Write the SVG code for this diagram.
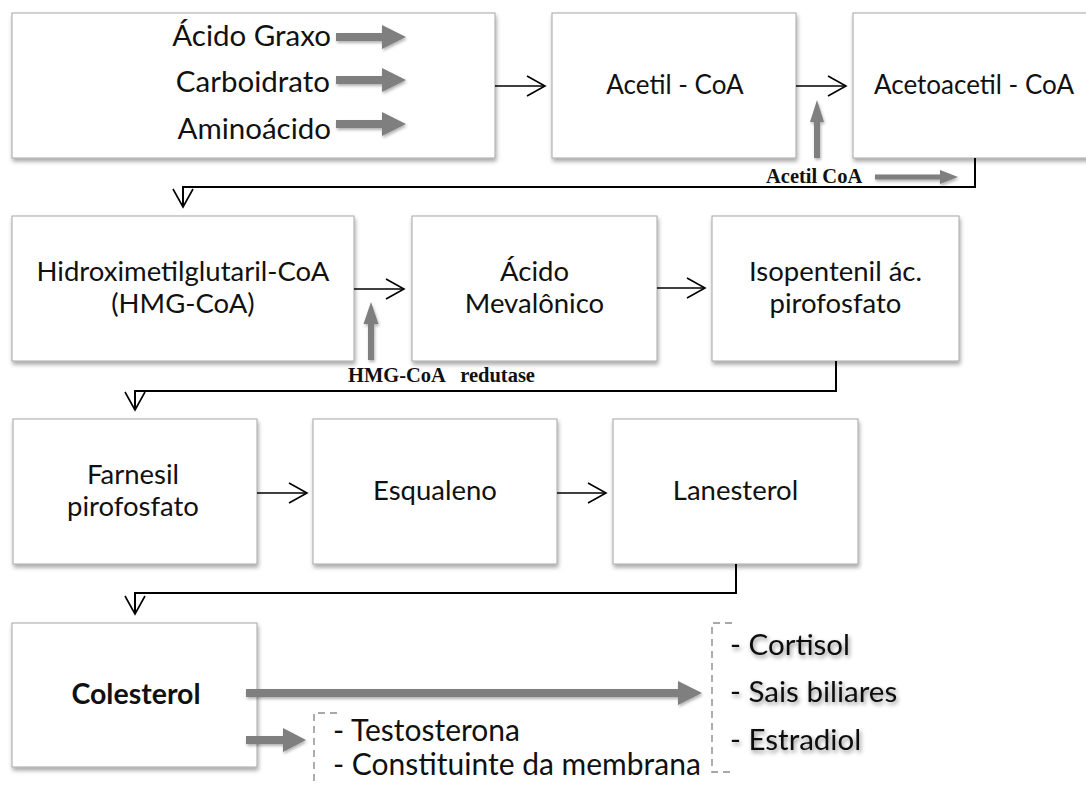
<svg xmlns="http://www.w3.org/2000/svg" width="1086" height="785" viewBox="0 0 1086 785">
  <defs>
    <style>
      .box { fill: #ffffff; stroke: #a6a6a6; stroke-width: 1; filter: url(#boxShadow); }
      .t { font-family: Lato, "Liberation Sans", sans-serif; font-size: 27.5px; fill: #111111; text-anchor: middle; }
      .big { font-size: 29.5px; text-anchor: end; }
      .sm { font-size: 26px; }
      .tl { font-family: Lato, "Liberation Sans", sans-serif; font-size: 30px; fill: #111111; }
      .list { font-family: Lato, "Liberation Sans", sans-serif; font-size: 29.5px; fill: #111111; filter: url(#textShadow); }
      .enz { font-family: "Liberation Serif", "Times New Roman", serif; font-size: 20.5px; font-weight: bold; fill: #111111; }
      .flow { fill: none; stroke: #000000; stroke-width: 1.6; marker-end: url(#chevron); }
      .elbow { fill: none; stroke: #000000; stroke-width: 2; }
      .garrow { fill: #7f7f7f; filter: url(#arrowShadow); }
      .bracket { fill: none; stroke: #8c8c8c; stroke-width: 1.4; stroke-dasharray: 7 5; }
    </style>
    <filter id="boxShadow" x="-5%" y="-5%" width="115%" height="125%">
      <feDropShadow dx="1" dy="3" stdDeviation="2" flood-color="#000000" flood-opacity="0.35"/>
    </filter>
    <filter id="textShadow" x="-10%" y="-20%" width="125%" height="160%">
      <feDropShadow dx="1.5" dy="2.5" stdDeviation="2" flood-color="#000000" flood-opacity="0.45"/>
    </filter>
    <filter id="arrowShadow" x="-10%" y="-30%" width="125%" height="170%">
      <feDropShadow dx="1" dy="2" stdDeviation="1.5" flood-color="#000000" flood-opacity="0.3"/>
    </filter>
    <marker id="chevron" markerUnits="userSpaceOnUse" markerWidth="22" markerHeight="24" refX="19" refY="11" orient="auto">
      <path d="M1,1 L19,11 L1,21" fill="none" stroke="#000000" stroke-width="1.6"/>
    </marker>
  </defs>

  <!-- row 1 -->
  <g id="precursores">
    <rect class="box" x="12" y="13" width="483" height="145"/>
    <text class="t big" x="331" y="46">Ácido Graxo</text>
    <text class="t big" x="330" y="92">Carboidrato</text>
    <text class="t big" x="331" y="139">Aminoácido</text>
    <path class="garrow" d="M336,33 H382 V25 L406,37 L382,49 V41 H336 Z"/>
    <path class="garrow" d="M336,76 H382 V68 L406,80 L382,92 V84 H336 Z"/>
    <path class="garrow" d="M336,120 H382 V112 L406,124 L382,136 V128 H336 Z"/>
  </g>
  <g id="acetil-coa">
    <rect class="box" x="552" y="13" width="244" height="145"/>
    <text class="t sm" x="675" y="94">Acetil - CoA</text>
  </g>
  <g id="acetoacetil-coa">
    <rect class="box" x="853" y="13" width="242" height="145"/>
    <text class="t sm" x="974" y="94">Acetoacetil - CoA</text>
  </g>

  <!-- row 2 -->
  <g id="hmg-coa">
    <rect class="box" x="12" y="216" width="342" height="145"/>
    <text class="t" x="183" y="281">Hidroximetilglutaril-CoA</text>
    <text class="t" x="183" y="313">(HMG-CoA)</text>
  </g>
  <g id="acido-mevalonico">
    <rect class="box" x="412" y="216" width="245" height="145"/>
    <text class="t" x="534.5" y="281">Ácido</text>
    <text class="t" x="534.5" y="313">Mevalônico</text>
  </g>
  <g id="isopentenil">
    <rect class="box" x="712" y="216" width="247" height="145"/>
    <text class="t" x="835.5" y="281">Isopentenil ác.</text>
    <text class="t" x="835.5" y="313">pirofosfato</text>
  </g>

  <!-- row 3 -->
  <g id="farnesil">
    <rect class="box" x="13" y="419" width="244" height="145"/>
    <text class="t" x="133" y="484">Farnesil</text>
    <text class="t" x="133" y="516">pirofosfato</text>
  </g>
  <g id="esqualeno">
    <rect class="box" x="313" y="419" width="244" height="145"/>
    <text class="t" x="435" y="500">Esqualeno</text>
  </g>
  <g id="lanesterol">
    <rect class="box" x="613" y="419" width="245" height="145"/>
    <text class="t" x="735.5" y="500">Lanesterol</text>
  </g>

  <!-- row 4 -->
  <g id="colesterol">
    <rect class="box" x="12" y="623" width="245" height="144"/>
    <text class="t" x="136" y="704" style="font-weight:bold;font-size:28.5px">Colesterol</text>
  </g>
  <g id="derivados-1">
    <path class="bracket" d="M337,713 H314 V785"/>
    <text class="tl" x="333" y="741">- Testosterona</text>
    <text class="tl" x="333" y="775">- Constituinte da membrana</text>
  </g>
  <g id="derivados-2">
    <path class="bracket" d="M732,623 H712 V772 H732"/>
    <text class="list" x="730" y="655">- Cortisol</text>
    <text class="list" x="730" y="702">- Sais biliares</text>
    <text class="list" x="730" y="750">- Estradiol</text>
  </g>

  <!-- connectors -->
  <g id="connectors">
    <line class="flow" x1="495" y1="86" x2="545" y2="86"/>
    <line class="flow" x1="796" y1="86" x2="846" y2="86"/>
    <polyline class="elbow" points="975,158 975,187 183,187 183,207" marker-end="url(#chevron)"/>
    <line class="flow" x1="354" y1="289" x2="404" y2="289"/>
    <line class="flow" x1="657" y1="288" x2="705" y2="288"/>
    <polyline class="elbow" points="836,361 836,391 135,391 135,410" marker-end="url(#chevron)"/>
    <line class="flow" x1="257" y1="493" x2="307" y2="493"/>
    <line class="flow" x1="557" y1="493" x2="606" y2="493"/>
    <polyline class="elbow" points="736,564 736,593 135,593 135,614" marker-end="url(#chevron)"/>

    <!-- cofactor / enzyme inputs -->
    <path class="garrow" d="M814,158 V122 H810 L817,100 L824,122 H820 V158 Z"/>
    <text class="enz" x="766" y="183">Acetil CoA</text>
    <path class="garrow" d="M875,174.5 H940 V170 L958,177 L940,184 V179.5 H875 Z"/>
    <path class="garrow" d="M368,360 V324 H363.5 L371,302 L378.5,324 H374 V360 Z"/>
    <text class="enz" x="348" y="382" xml:space="preserve">HMG-CoA   redutase</text>

    <!-- products of cholesterol -->
    <path class="garrow" d="M246,689 H678 V681 L702,693 L678,705 V697 H246 Z"/>
    <path class="garrow" d="M246,736 H283 V728 L306,740 L283,752 V744 H246 Z"/>
  </g>
</svg>
